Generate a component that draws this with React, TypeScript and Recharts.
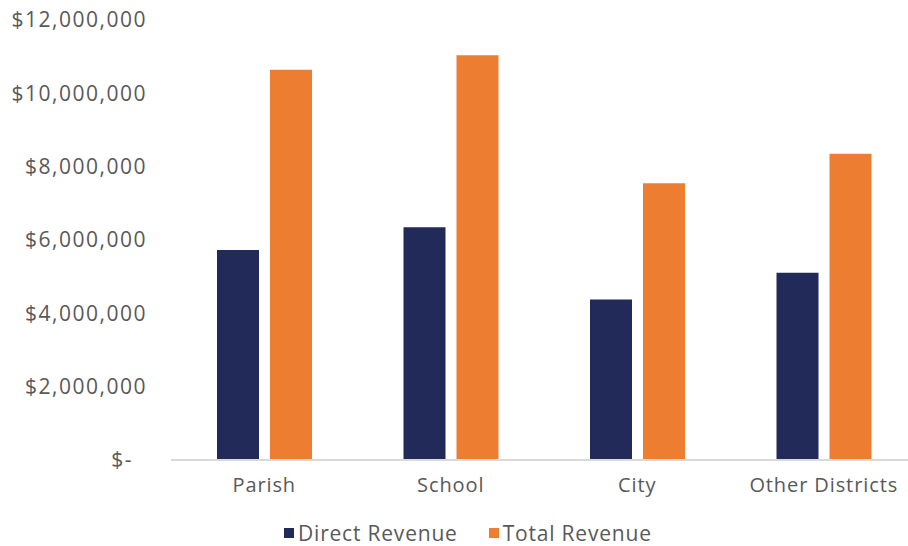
import React from "react";
import { Bar, BarChart, Legend, XAxis, YAxis } from "recharts";

const categories = ["Parish", "School", "City", "Other Districts"];
const directRevenue = [5730000, 6350000, 4380000, 5110000];
const totalRevenue = [10640000, 11040000, 7550000, 8350000];
const yTicks = [0, 2000000, 4000000, 6000000, 8000000, 10000000, 12000000];

const NAVY = "#222A59";
const ORANGE = "#ED7D31";
const TEXT = "#595959";
const FONT = "'Open Sans', sans-serif";

const data = categories.map((name, i) => ({
  name,
  direct: directRevenue[i],
  total: totalRevenue[i],
}));

const fmtMoney = (v: number) =>
  v === 0 ? "$-\u00A0\u00A0" : "$" + v.toLocaleString("en-US");

function renderLegend() {
  const items = [
    { label: "Direct Revenue", color: NAVY },
    { label: "Total Revenue", color: ORANGE },
  ];
  return (
    <div style={{ display: "flex", paddingLeft: 284, height: 24, alignItems: "center" }}>
      {items.map((it) => (
        <div key={it.label} style={{ display: "flex", alignItems: "center", marginRight: 31 }}>
          <span style={{ width: 10, height: 10, background: it.color, display: "inline-block", marginRight: 4 }} />
          <span style={{ fontFamily: FONT, fontSize: 21, letterSpacing: 0.8, color: TEXT }}>{it.label}</span>
        </div>
      ))}
    </div>
  );
}

export default function App() {
  return (
    <div style={{ position: "absolute", left: 0, top: 0, width: 908, height: 546, background: "#fff" }}>
      <BarChart
        width={908}
        height={546}
        data={data}
        margin={{ top: 20, right: -9, bottom: 1, left: 0 }}
        barSize={42}
        barGap={11}
      >
        <XAxis
          dataKey="name"
          axisLine={{ stroke: "#D9D9D9", strokeWidth: 2 }}
          tickLine={false}
          tickMargin={12}
          height={61}
          tick={{ fill: TEXT, fontFamily: FONT, fontSize: 20, letterSpacing: 0.9 }}
        />
        <YAxis
          width={171}
          domain={[0, 12000000]}
          ticks={yTicks}
          axisLine={false}
          tickLine={false}
          tickMargin={18}
          tickFormatter={fmtMoney}
          tick={{ fill: TEXT, fontFamily: FONT, fontSize: 21, letterSpacing: 1.5 }}
        />
        <Legend verticalAlign="bottom" wrapperStyle={{ left: 0, width: 908 }} content={renderLegend} />
        <Bar dataKey="direct" name="Direct Revenue" fill={NAVY} isAnimationActive={false} />
        <Bar dataKey="total" name="Total Revenue" fill={ORANGE} isAnimationActive={false} />
      </BarChart>
    </div>
  );
}
